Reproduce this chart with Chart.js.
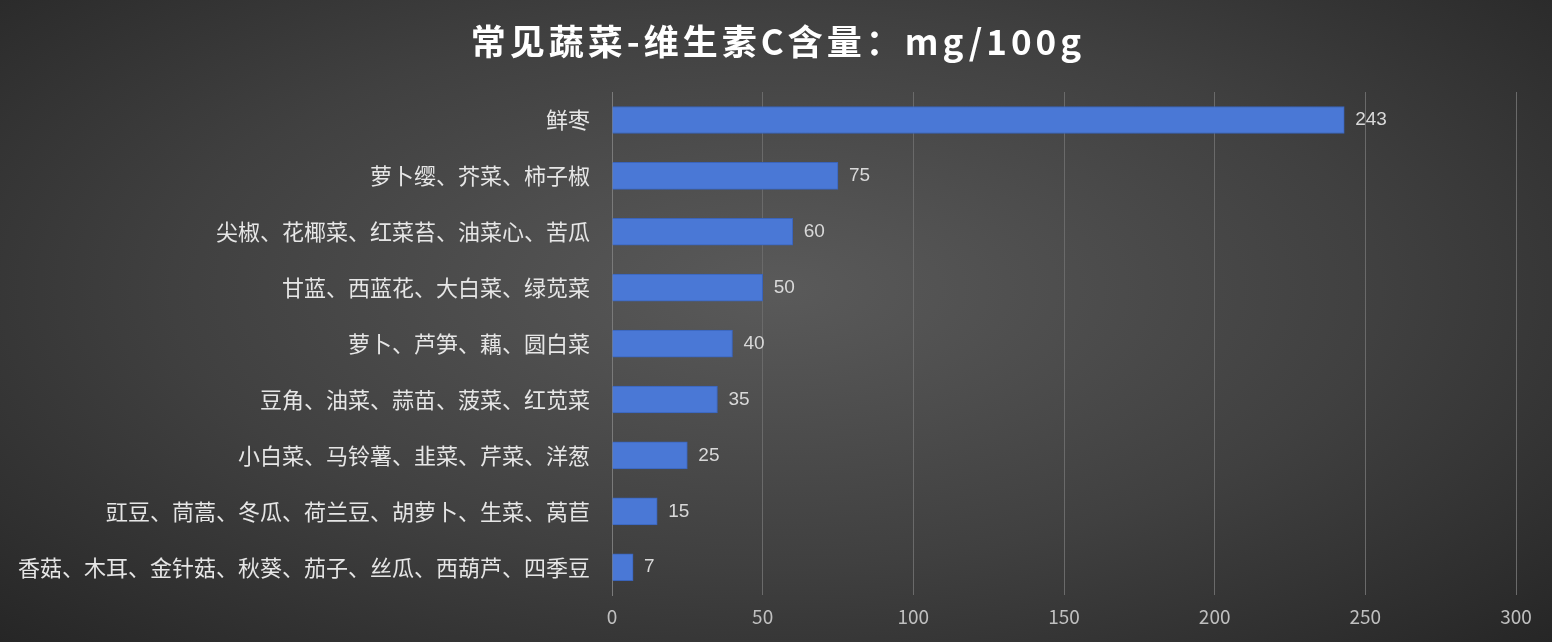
<!DOCTYPE html>
<html>
<head>
<meta charset="utf-8">
<script src="https://cdn.jsdelivr.net/npm/chart.js@4/dist/chart.umd.min.js"></script>
<style>
  html, body { margin: 0; padding: 0; }
  body {
    width: 1552px; height: 642px; overflow: hidden;
    background: radial-gradient(ellipse at 50% 45%, #5a5a5a 0%, #404040 55%, #262626 100%);
  }
  #wrap { width: 1552px; height: 642px; }
</style>
</head>
<body>
<div id="wrap"><canvas id="myChart"></canvas></div>
<script>
// 蔬菜分组与维生素C含量（mg/100g）
const categorias = [
  "鲜枣",
  "萝卜缨、芥菜、柿子椒",
  "尖椒、花椰菜、红菜苔、油菜心、苦瓜",
  "甘蓝、西蓝花、大白菜、绿苋菜",
  "萝卜、芦笋、藕、圆白菜",
  "豆角、油菜、蒜苗、菠菜、红苋菜",
  "小白菜、马铃薯、韭菜、芹菜、洋葱",
  "豇豆、茼蒿、冬瓜、荷兰豆、胡萝卜、生菜、莴苣",
  "香菇、木耳、金针菇、秋葵、茄子、丝瓜、西葫芦、四季豆"
];
const vitaminaC = [243, 75, 60, 50, 40, 35, 25, 15, 7];
const ticksX = [0, 50, 100, 150, 200, 250, 300];

const fuente = "'Noto Sans CJK SC', 'Liberation Sans', sans-serif";

// etiquetas de valor al final de cada barra
const etiquetas = {
  id: "etiquetas",
  afterDatasetsDraw(chart) {
    const ctx = chart.ctx;
    const meta = chart.getDatasetMeta(0);
    ctx.save();
    ctx.fillStyle = "#d9d9d9";
    ctx.font = "19px 'Liberation Sans', sans-serif";
    ctx.textBaseline = "middle";
    meta.data.forEach((bar, i) => {
      ctx.fillText(vitaminaC[i], bar.x + 11, bar.y);
    });
    ctx.restore();
  }
};

// título con espaciado entre letras
const titulo = {
  id: "titulo",
  afterDraw(chart) {
    const ctx = chart.ctx;
    ctx.save();
    ctx.fillStyle = "#ffffff";
    ctx.font = "bold 35px " + fuente;
    ctx.letterSpacing = "4px";
    ctx.textAlign = "center";
    ctx.textBaseline = "middle";
    ctx.fillText("常见蔬菜-维生素C含量：mg/100g", 778, 42);
    ctx.restore();
  }
};

document.addEventListener("DOMContentLoaded", () => {
  const ctx = document.getElementById("myChart");

  new Chart(ctx, {
    type: "bar",
    data: {
      labels: categorias,
      datasets: [{
        data: vitaminaC,
        backgroundColor: "#4a78d6",
        borderColor: "#3a64bb",
        borderWidth: 1,
        barThickness: 27
      }]
    },
    plugins: [etiquetas, titulo],
    options: {
      indexAxis: "y",
      responsive: true,
      maintainAspectRatio: false,
      animation: false,
      layout: { padding: { left: 4, right: 36, top: 92, bottom: 4 } },
      plugins: {
        legend: { display: false },
        tooltip: { enabled: false },
        title: { display: false }
      },
      scales: {
        x: {
          min: 0,
          max: 300,
          afterBuildTicks: axis => { axis.ticks = ticksX.map(v => ({ value: v })); },
          grid: { color: "#6a6a6a", drawTicks: false },
          border: { display: false },
          ticks: { color: "#bfbfbf", font: { family: fuente, size: 19 }, padding: 10 }
        },
        y: {
          grid: { display: false },
          border: { color: "#7a7a7a" },
          ticks: { color: "#e6e6e6", font: { family: fuente, size: 22 }, padding: 14 }
        }
      }
    }
  });
});
</script>
</body>
</html>
